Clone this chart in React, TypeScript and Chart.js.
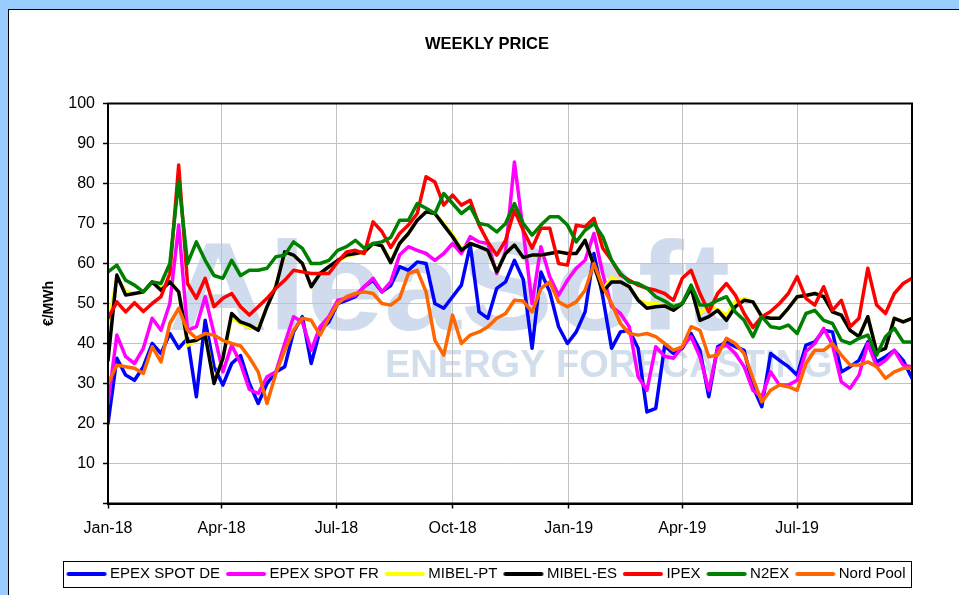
import React, { useEffect, useRef } from 'react';
import { Chart, registerables } from 'chart.js';

Chart.register(...registerables);

const FONT = "'Liberation Sans', Arial, Helvetica, sans-serif";
Chart.defaults.font.family = FONT;

const seriesNames = ['EPEX SPOT DE', 'EPEX SPOT FR', 'MIBEL-PT', 'MIBEL-ES', 'IPEX', 'N2EX', 'Nord Pool'];
const seriesColors = ['#0000FF', '#FF00FF', '#FFFF00', '#000000', '#FF0000', '#008000', '#FF6600'];

// Weekly prices (EUR/MWh), week 1 2018 .. week 40 2019
const epexDe = [
  20, 36.3, 32.1, 30.8, 34.2, 40, 37.5, 42.5, 38.8, 41.3,
  26.7, 45.8, 34.2, 29.6, 35, 37, 30, 25, 30, 32.9,
  34.2, 42.9, 46.7, 35, 43.3, 45.4, 50, 50.8, 51.7, 54.2,
  55.8, 52.9, 54.5, 59.2, 58.3, 60.4, 60, 50, 48.8, 51.7,
  54.6, 64.6, 47.9, 46.3, 53.8, 55.4, 60.8, 56, 38.8, 57.9,
  52.9, 44.2, 40, 42.9, 47.9, 62.5, 51.7, 38.8, 42.9, 43.3,
  38.8, 22.9, 23.8, 39.4, 37.5, 38.8, 42.5, 38.3, 26.7, 39.2,
  40.4, 39.2, 38.3, 29.2, 24.2, 37.5, 35.8, 34.2, 32.1, 39.6,
  40.4, 43.3, 42.9, 32.9, 34.2, 35.8, 40.4, 35.4, 36.7, 38.3,
  35.8, 31.3,
];
const epexFr = [
  25, 42.1, 36.7, 35, 38.8, 46.3, 43.3, 50, 69.6, 43.3,
  44.2, 51.7, 42.5, 32.9, 39.6, 35, 28.5, 27.5, 31.7, 32.9,
  40, 46.7, 45.4, 38.3, 44.2, 46.7, 50.8, 51.3, 52.1, 54.2,
  56.3, 52.9, 55.4, 62.1, 64.2, 63.3, 62.5, 60.8, 62.5, 65,
  62.5, 66.7, 65.4, 65, 57.5, 63, 85.4, 68, 50, 64.2,
  56.7, 52.1, 55.8, 58.8, 60.8, 67.5, 57.5, 49.2, 47.5, 44.2,
  31.7, 28.3, 39.2, 36.8, 36.3, 39.2, 41.7, 36.7, 28.3, 38.8,
  39.6, 37.5, 34.2, 28.3, 26.7, 32.9, 29.6, 29.6, 30.8, 38,
  40, 43.8, 39.6, 30.4, 28.8, 32.1, 40, 34.2, 35.8, 38.3,
  34.6, 34.2,
];
const mibelPt = [
  44, 56.5, 53, 52.5, 52.9, 55.4, 53.8, 55.4, 52.9, 39.5,
  40.8, 42.5, 30.5, 36.3, 46.5, 45, 44, 43.8, 49.2, 54.5,
  62.5, 62.1, 60, 54.2, 57.5, 59.2, 60.5, 61.8, 62.3, 62.9,
  65, 64.4, 60.5, 65, 67.5, 70.8, 72.9, 72.5, 70, 67.2,
  63.6, 65, 64.2, 63.3, 57.9, 62.5, 64.6, 61.5, 62.1, 62.1,
  62.5, 62.9, 62.5, 62.5, 65.8, 59.6, 53.3, 56.5, 55.4, 54.2,
  51, 50, 50, 49.4, 48.3, 50, 53.8, 47.5, 49.5, 48.5,
  47, 50.5, 51.3, 50.4, 46.7, 46.3, 46.3, 48.8, 51.7, 52,
  52.5, 51.7, 47.9, 47.1, 43.3, 41.7, 46.7, 37.9, 38.8, 46.3,
  45.4, 46.3,
];
const mibelEs = [
  35.8, 57.1, 52.1, 52.5, 52.9, 55.4, 53.3, 55.4, 52.9, 40.4,
  40.8, 42.1, 30, 36.3, 47.5, 45.4, 44.6, 43.3, 49.2, 54.2,
  62.9, 62.1, 60, 54.2, 57.5, 59.2, 60.8, 62.1, 62.5, 62.9,
  65, 64.4, 60.2, 65, 67.5, 70.8, 72.9, 72.5, 69.6, 66.7,
  63.3, 65, 64.2, 63.3, 57.9, 62.5, 64.6, 61.5, 62.1, 62.1,
  62.5, 62.9, 62.5, 62.5, 65.8, 59.6, 52.9, 55.4, 55.4, 54.2,
  50.8, 48.8, 49.2, 49.4, 48.3, 50, 53.8, 45.8, 46.7, 48.3,
  45.8, 49.2, 50.8, 50.4, 46.7, 46.3, 46.3, 48.8, 51.7, 52,
  52.5, 51.7, 47.9, 47.1, 43.3, 41.7, 46.7, 37.9, 38.8, 46.3,
  45.4, 46.3,
];
const ipex = [
  46.3, 50.4, 47.9, 50.2, 48, 50, 51.7, 57.5, 84.6, 55,
  51.3, 56.3, 49.2, 51.3, 52.5, 49.2, 47.1, 49.2, 51.3, 53.8,
  55.8, 58.3, 57.9, 57.5, 57.5, 57.5, 60.4, 62.9, 63.3, 62.5,
  70.4, 68, 64, 67.5, 69.6, 72.5, 81.7, 80.4, 74.6, 77.1,
  74.6, 75.8, 69.6, 65.4, 62.1, 65.8, 73.3, 68.3, 63.8, 68.8,
  68.8, 60, 59.6, 69.6, 69.2, 71.3, 63.8, 60.8, 57.1, 55.8,
  54.6, 53.8, 53.3, 52.5, 50.8, 56.3, 58.3, 52.5, 47.9, 52.5,
  55, 52.1, 47.5, 44, 46.7, 48, 50, 52.5, 56.7, 51.3,
  49.6, 54.2, 48.3, 50.8, 44.2, 46.3, 58.8, 49.6, 47.5, 52.5,
  55, 56.3,
];
const n2ex = [
  57.9, 59.6, 55.8, 54.6, 52.9, 55.4, 55, 60, 80.8, 60,
  65.4, 60.8, 57, 56.3, 60.8, 57, 58.3, 58.3, 58.8, 61.7,
  62.1, 65.4, 63.8, 60, 60, 60.8, 63.3, 64.2, 65.8, 63.8,
  65, 65.4, 66.5, 70.8, 70.8, 75, 73.8, 72.5, 77.5, 75,
  72.5, 74.2, 70, 69.6, 67.9, 70, 75, 70, 67.1, 69.6,
  71.7, 71.7, 69.6, 65.4, 68.3, 70, 66.7, 60.8, 57.5, 55.4,
  55, 53.8, 51.7, 50.6, 49.2, 50, 54.6, 49.6, 49.6, 50.8,
  51.7, 47.9, 45.8, 41.7, 46.7, 44.2, 43.8, 44.6, 42.5, 47.5,
  48.3, 45.8, 45, 40.8, 40, 41.3, 42.1, 37.1, 41.7, 43.8,
  40.4, 40.4,
];
const nordPool = [
  30, 34.6, 34.2, 33.8, 32.5, 39.2, 35.4, 45, 48.8, 43.3,
  41.3, 42.5, 42.1, 40.8, 40, 39.4, 36.5, 32.9, 25, 32.5,
  38.3, 43.3, 46.3, 45.8, 42.1, 46.3, 50, 51.7, 52.5, 52.9,
  52.5, 50, 49.6, 51.3, 57.5, 58.3, 52.9, 40.8, 37.1, 47.1,
  40, 42.1, 42.9, 44.2, 46.3, 47.5, 50.8, 50.6, 47.9, 53.8,
  55.4, 50.4, 49.2, 50.4, 53.3, 60, 54.2, 50, 45, 42.5,
  42.1, 42.5, 41.7, 40, 38.3, 39.2, 44.2, 43.3, 36.7, 37.1,
  41.3, 40, 37.5, 31.3, 25.4, 28.3, 29.6, 29.2, 28.3, 35,
  38.3, 38.3, 40, 37.1, 34.6, 34.6, 35.4, 34.2, 31.3, 32.9,
  33.8, 33.8,
];

// X axis: days since 1 Jan 2018, weekly points
const DAYS_PER_WEEK = 7;
const xTickLabels = ['Jan-18', 'Apr-18', 'Jul-18', 'Oct-18', 'Jan-19', 'Apr-19', 'Jul-19'];
const xTickDays = [0, 90, 181, 273, 365, 455, 546];

function makeLegendImage(color: string) {
  const c = document.createElement('canvas');
  c.width = 46;
  c.height = 8;
  const g = c.getContext('2d')!;
  g.strokeStyle = color;
  g.lineWidth = 4;
  g.lineCap = 'round';
  g.beginPath();
  g.moveTo(6, 4);
  g.lineTo(42, 4);
  g.stroke();
  return c;
}

export default function App() {
  const ref = useRef<HTMLCanvasElement>(null);

  useEffect(() => {
    const canvas = ref.current;
    if (!canvas) return;
    const seriesData = [epexDe, epexFr, mibelPt, mibelEs, ipex, n2ex, nordPool];
    const lastDay = (epexDe.length - 1) * DAYS_PER_WEEK;
    const datasets = seriesData.map((vals, i) => ({
      label: seriesNames[i],
      data: vals.map((v, w) => ({ x: w * DAYS_PER_WEEK, y: v })),
      borderColor: seriesColors[i],
      backgroundColor: seriesColors[i],
      borderWidth: 3.5,
      pointRadius: 0,
      pointHoverRadius: 0,
      tension: 0,
      fill: false,
      borderJoinStyle: 'round' as const,
      borderCapStyle: 'round' as const,
      order: seriesData.length - i,
    }));
    const legendImages = seriesColors.map(makeLegendImage);

    const watermark = {
      id: 'watermark',
      beforeDraw(chart: any) {
        const ctx = chart.ctx;
        ctx.save();
        ctx.textBaseline = 'alphabetic';
        ctx.fillStyle = '#d0dcee';
        ctx.translate(168, 330);
        ctx.scale(1.1, 1);
        ctx.font = `bold 126px ${FONT}`;
        ctx.fillText('AleaSoft', 0, 0);
        ctx.restore();
        ctx.save();
        ctx.fillStyle = '#d3deed';
        ctx.font = `bold 38px ${FONT}`;
        ctx.fillText('ENERGY FORECASTING', 385, 367);
        ctx.restore();
      },
    };

    const frames = {
      id: 'frames',
      afterDraw(chart: any) {
        const ctx = chart.ctx;
        const a = chart.chartArea;
        ctx.save();
        ctx.strokeStyle = '#000';
        ctx.lineWidth = 2;
        ctx.strokeRect(a.left, a.top, a.right - a.left, a.bottom - a.top);
        const hb = chart.legend && chart.legend.legendHitBoxes;
        if (hb && hb.length) {
          const first = hb[0];
          const last = hb[hb.length - 1];
          const cy = first.top + first.height / 2;
          const x0 = Math.round(first.left - 6) + 0.5;
          const x1 = Math.round(last.left + last.width + 6) + 0.5;
          ctx.lineWidth = 1;
          ctx.strokeRect(x0, Math.round(cy - 13) + 0.5, x1 - x0, 26);
        }
        ctx.restore();
      },
    };

    const chart = new Chart(canvas, {
      type: 'line',
      data: { datasets: datasets as any },
      options: {
        responsive: false,
        maintainAspectRatio: false,
        animation: false,
        devicePixelRatio: 1,
        events: [],
        layout: { padding: { left: 40, right: 25, top: 0, bottom: 3.5 } },
        plugins: {
          title: {
            display: true,
            text: 'WEEKLY PRICE',
            color: '#000',
            font: { family: FONT, size: 16.5, weight: 'bold' },
            padding: { top: 34.1, bottom: 49.6 },
          },
          legend: {
            display: true,
            position: 'bottom',
            labels: {
              usePointStyle: true,
              pointStyleWidth: 34,
              padding: 8,
              color: '#000',
              font: { family: FONT, size: 15 },
              generateLabels: () =>
                seriesNames.map((name, i) => ({
                  text: name,
                  fillStyle: seriesColors[i],
                  strokeStyle: seriesColors[i],
                  lineWidth: 0,
                  pointStyle: legendImages[i],
                  hidden: false,
                  datasetIndex: i,
                })) as any,
            },
          },
          tooltip: { enabled: false },
        },
        scales: {
          x: {
            type: 'linear',
            min: 0,
            max: lastDay,
            afterBuildTicks: (axis: any) => {
              axis.ticks = xTickDays.map((v) => ({ value: v }));
            },
            afterFit: (s: any) => {
              s.height = 55;
            },
            ticks: {
              autoSkip: false,
              maxRotation: 0,
              color: '#000',
              padding: 10,
              font: { family: FONT, size: 16 },
              callback: (_v: any, index: number) => xTickLabels[index],
            },
            grid: { color: '#c2c2c2', lineWidth: 1, tickLength: 5, tickColor: '#000', tickWidth: 1.5 },
            border: { color: '#000', width: 2 },
          },
          y: {
            min: 0,
            max: 100,
            afterFit: (s: any) => {
              s.width = 68;
            },
            ticks: {
              stepSize: 10,
              color: '#000',
              padding: 8,
              font: { family: FONT, size: 16 },
              callback: (v: any) => (v === 0 ? '' : String(v)),
            },
            grid: { color: '#c2c2c2', lineWidth: 1, tickLength: 5, tickColor: '#000', tickWidth: 1.5 },
            border: { color: '#000', width: 2 },
            title: {
              display: true,
              text: '€/MWh',
              color: '#000',
              font: { family: FONT, size: 14, weight: 'bold' },
              padding: { top: 0.5, bottom: 0 },
            },
          },
          y2: {
            position: 'right',
            min: 0,
            max: 100,
            afterFit: (s: any) => {
              s.width = 22;
            },
            ticks: { display: false },
            grid: { display: false, drawTicks: false },
            border: { display: false },
          },
        },
      } as any,
      plugins: [watermark, frames],
    });
    return () => chart.destroy();
  }, []);

  return (
    <div
      style={{
        position: 'fixed',
        left: 0,
        top: 0,
        width: 959,
        height: 595,
        background: '#99CCFF',
        overflow: 'hidden',
      }}
    >
      <div
        style={{
          position: 'absolute',
          left: 8,
          top: 9,
          width: 1000,
          height: 700,
          background: '#ffffff',
          borderLeft: '1px solid #000',
          borderTop: '1px solid #000',
        }}
      />
      <canvas
        ref={ref}
        width={959}
        height={595}
        style={{ position: 'absolute', left: 0, top: 0, width: 959, height: 595 }}
      />
    </div>
  );
}
